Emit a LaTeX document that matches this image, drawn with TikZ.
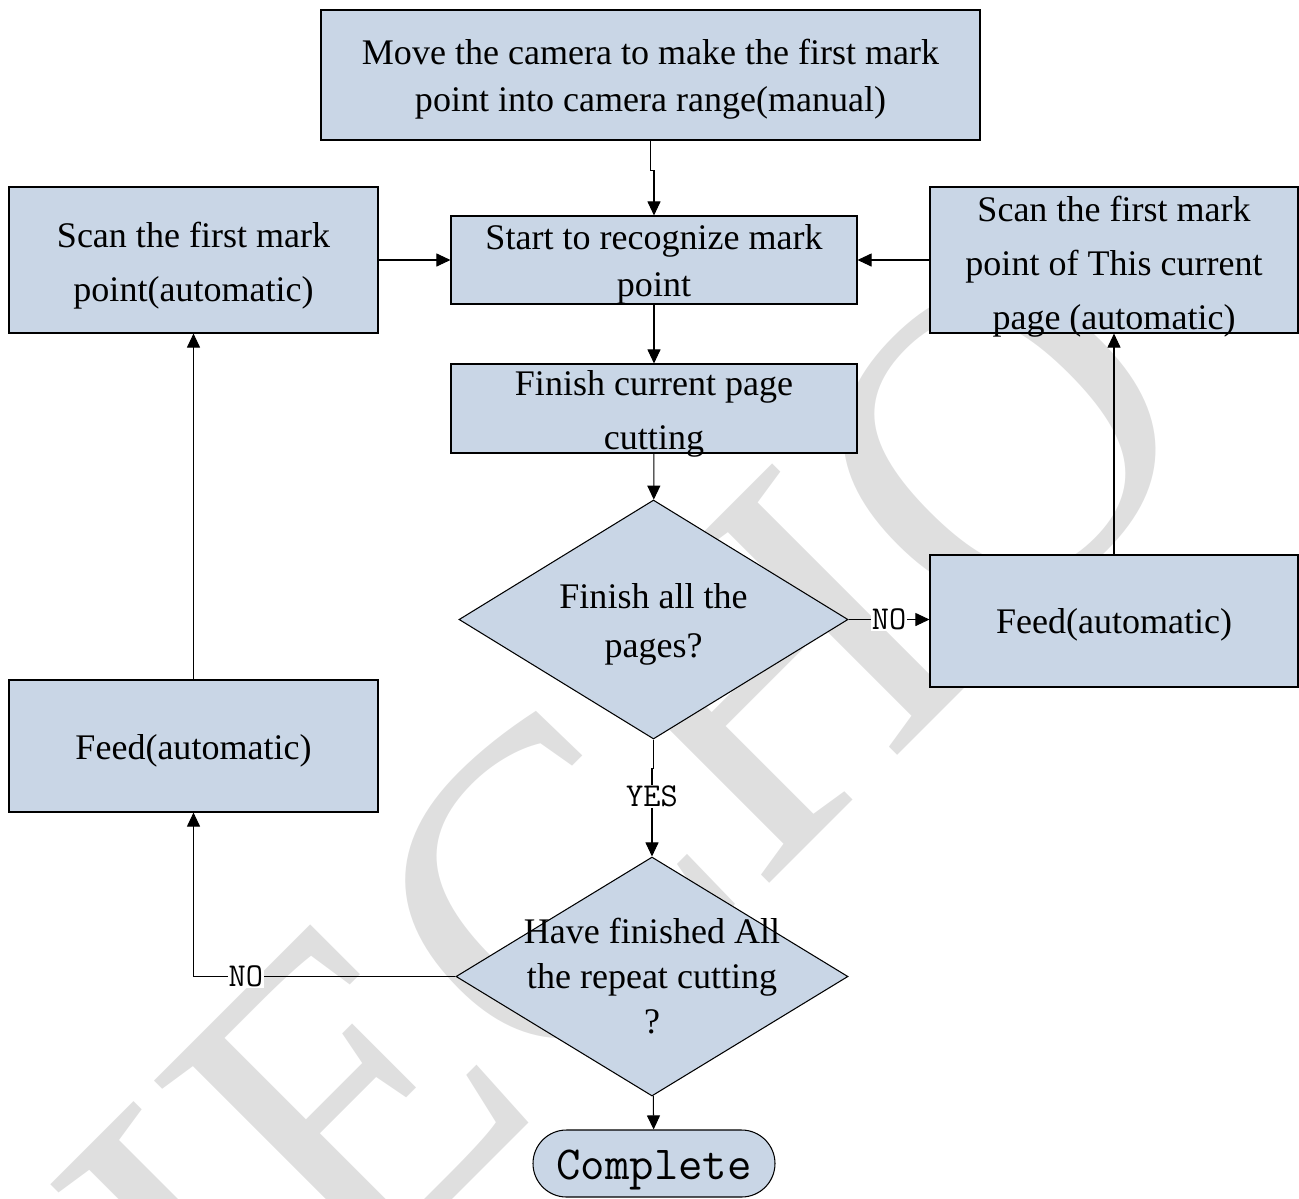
\documentclass[tikz,border=0pt]{standalone}
\usepackage{fontspec}
\setmainfont{Liberation Serif}
\usetikzlibrary{arrows.meta,shapes.geometric,positioning}
\definecolor{boxblue}{HTML}{C9D6E6}
\definecolor{wmgray}{HTML}{DFDFDF}

\begin{document}
\begin{tikzpicture}[x=0.02cm,y=-0.02cm,
  box/.style={draw=black,fill=boxblue,line width=0.6pt,inner sep=0pt},
  boxsize/.style 2 args={minimum width=#1*0.02cm,minimum height=#2*0.02cm},
  dia/.style={box,diamond},
  txt/.style={font=\fontsize{20.5}{#1}\selectfont,align=center,inner sep=0pt},
  txt/.default=27,
  lbl/.style={font=\ttfamily\fontsize{19}{19}\selectfont,fill=white,inner sep=0.5pt},
  arr/.style={line width=0.6pt,-{Triangle[length=8pt,width=7.4pt]}}]
  \useasboundingbox (0,0) rectangle (1299,1198);
  % watermark behind everything
  \node[wmgray,rotate=45,inner sep=0pt,font=\fontsize{256}{256}\selectfont] (wm) at (630,815) {IECHO};

  % shapes
  \node[box,boxsize={659}{130}] (move) at (650.5,75) {};
  \node[box,boxsize={406}{88}] (start) at (654,260) {};
  \node[box,boxsize={406}{89}] (finish) at (654,408.5) {};
  \node[box,boxsize={369}{146}] (scanL) at (193.5,260) {};
  \node[box,boxsize={368}{146}] (scanR) at (1114,260) {};
  \node[dia,boxsize={389}{239}] (pages) at (653.5,619.5) {};
  \node[box,boxsize={368}{132}] (feedR) at (1114,621) {};
  \node[box,boxsize={369}{132}] (feedL) at (193.5,746) {};
  \node[dia,boxsize={392}{239}] (repeat) at (652,976.5) {};
  \node[box,rounded corners=0.67cm,boxsize={242}{67}] (done) at (654,1163.5) {};

  % texts
  \node[txt=26.7] (moveT) at ([yshift=-2.3]move.center) {Move the camera to make the first mark\\point into camera range(manual)};
  \node[txt=26.7] (startT) at ([yshift=-2.3]start.center) {Start to recognize mark\\point};
  \node[txt=30.7] (finishT) at ([yshift=-3]finish.center) {Finish current page\\cutting};
  \node[txt=30.7] (scanLT) at ([yshift=-3]scanL.center) {Scan the first mark\\point(automatic)};
  \node[txt=30.7] (scanRT) at ([yshift=-4]scanR.center) {Scan the first mark\\point of This current\\page (automatic)};
  \node[txt=27.9] (pagesT) at ([yshift=-2.8]pages.center) {Finish all the\\pages?};
  \node[txt] (feedRT) at ([yshift=-2.3]feedR.center) {Feed(automatic)};
  \node[txt] (feedLT) at ([yshift=-2.8]feedL.center) {Feed(automatic)};
  \node[txt=25.6] (repeatT) at (repeat) {Have finished All\\the repeat cutting\\?};
  \node[font=\ttfamily\fontsize{27}{27}\selectfont,inner sep=0pt] (doneT) at ([yshift=-3.4]done.center) {Complete};

  % connectors
  \draw[arr] (move.south) -- ++(0,30) -| (start.north);
  \draw[arr] (scanL.east) -- (start.west);
  \draw[arr] (scanR.west) -- (start.east);
  \draw[arr] (start) -- (finish);
  \draw[arr] (finish) -- (pages);
  \draw[arr] (pages.east) -- (pages.east -| feedR.west) node[lbl,midway] (no1) {NO};
  \draw[arr] (feedR) -- (scanR);
  \draw[arr] (pages.south) -- ++(0,29) -| (repeat.north) node[lbl,pos=0.66] (yes) {YES};
  \draw[arr] (repeat.west) -| (feedL.south) node[lbl,pos=0.4] (no2) {NO};
  \draw[arr] (feedL) -- (scanL);
  \draw[arr] (repeat) -- (done);
\end{tikzpicture}
\end{document}
